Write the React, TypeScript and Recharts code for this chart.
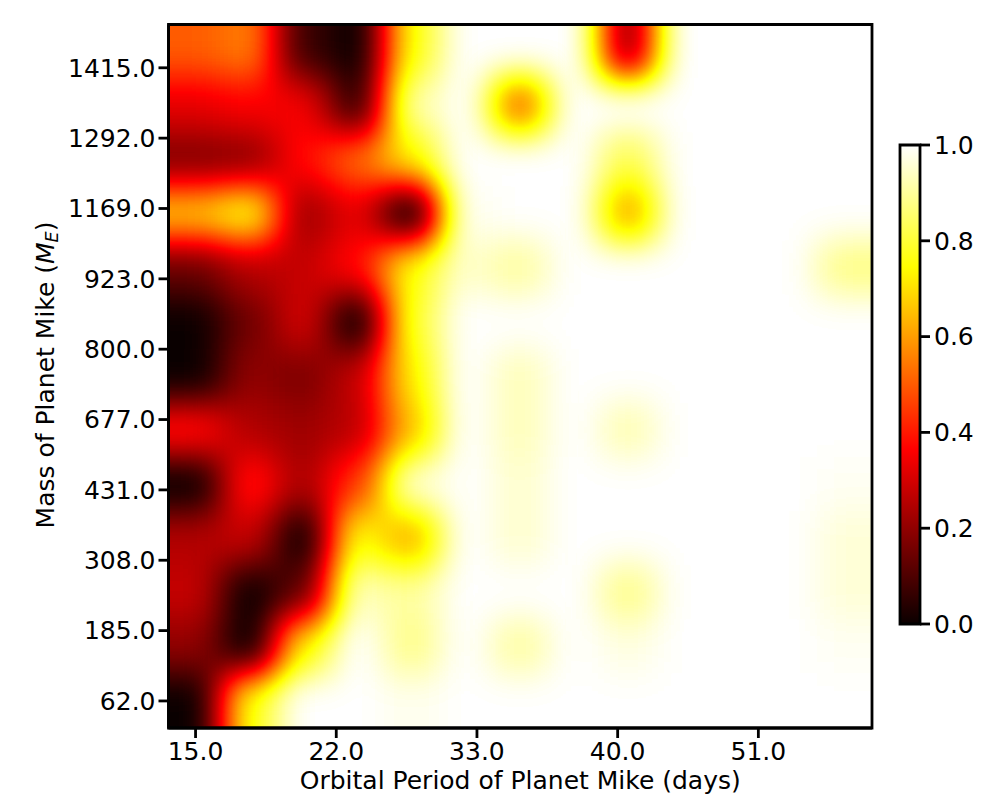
import React from "react";
import {
  Bar,
  BarChart,
  ReferenceArea,
  Scatter,
  ScatterChart,
  XAxis,
  YAxis,
} from "recharts";

// rows run from the top of the image (1415-ish) down to the bottom (62)
const row12 = [0.5, 0.55, 0.08, 0.0, 0.75, 1, 1, 1, 0.2, 1, 1, 1, 1];
const row11 = [0.33, 0.36, 0.35, 0.06, 0.9, 1, 0.5, 1, 1, 1, 1, 1, 1];
const row10 = [0.18, 0.2, 0.38, 0.52, 0.72, 1, 1, 1, 0.82, 1, 1, 1, 1];
const row9 = [0.65, 0.75, 0.22, 0.33, 0.0, 0.98, 1, 1, 0.6, 1, 1, 1, 1];
const row8 = [0.15, 0.26, 0.28, 0.38, 0.75, 0.95, 0.9, 1, 1, 1, 1, 1, 0.88];
const row7 = [0.0, 0.15, 0.3, 0.0, 0.78, 1, 1, 1, 1, 1, 1, 1, 1];
const row6 = [0.0, 0.2, 0.17, 0.28, 0.72, 1, 0.93, 1, 1, 1, 1, 1, 1];
const row5 = [0.38, 0.25, 0.22, 0.27, 0.65, 1, 0.93, 1, 0.92, 1, 1, 1, 1];
const row4 = [0.0, 0.4, 0.24, 0.45, 0.95, 1, 0.95, 1, 1, 1, 1, 1, 0.99];
const row3 = [0.25, 0.28, 0.0, 0.75, 0.62, 1, 0.95, 1, 1, 1, 1, 1, 0.96];
const row2 = [0.28, 0.0, 0.14, 0.93, 0.9, 1, 1, 1, 0.88, 1, 1, 1, 0.96];
const row1 = [0.2, 0.0, 0.72, 1, 0.88, 1, 0.9, 1, 0.97, 1, 1, 1, 0.99];
const row0 = [0.0, 0.75, 1, 1, 0.98, 1, 1, 1, 1, 1, 1, 1, 1];
const rows = [row12, row11, row10, row9, row8, row7, row6, row5, row4, row3, row2, row1, row0];

const periodLabels = ["15.0", "22.0", "33.0", "40.0", "51.0"];
const massLabels = ["62.0", "185.0", "308.0", "431.0", "677.0", "800.0", "923.0", "1169.0", "1292.0", "1415.0"];
const colorbarTicks = [0, 0.2, 0.4, 0.6, 0.8, 1];

// the labelled ticks fall every 2.6 columns and every 1.3 rows
const periodTicks = periodLabels.map((_, i) => i * 2.6);
const massTicks = massLabels.map((_, i) => i * 1.3);

const hotStops: [number, number[]][] = [
  [0, [11, 0, 0]],
  [0.365, [255, 0, 0]],
  [0.746, [255, 255, 0]],
  [1, [255, 255, 255]],
];

const PLOT = 703.5;
const LEFT = 168.5;
const TOP = 24.5;
const CELL = PLOT / 13;
const FONT = "DejaVu Sans";
const plotMargin = { top: TOP, right: 1000 - LEFT - PLOT, bottom: 800 - TOP - PLOT, left: LEFT };

const cells = rows.flatMap((vals, r) =>
  vals.map((value, col) => ({ col, row: 12 - r, value }))
);

function hotChannel(v: number, ch: number) {
  for (let i = 1; i < hotStops.length; i++) {
    const [p0, c0] = hotStops[i - 1];
    const [p1, c1] = hotStops[i];
    if (v <= p1) return (c0[ch] + ((v - p0) / (p1 - p0)) * (c1[ch] - c0[ch])) / 255;
  }
  return 1;
}

function hotTable(ch: number) {
  const out: string[] = [];
  for (let i = 0; i <= 255; i++) out.push(hotChannel(i / 255, ch).toFixed(4));
  return out.join(" ");
}

// cells are painted as gray levels, blurred, then pushed through the colormap
function GrayCell(props: any) {
  const { cx, cy, payload } = props;
  const g = Math.round(payload.value * 255);
  const left = payload.col === 0 ? 80 : 0.5;
  const right = payload.col === 12 ? 80 : 0.5;
  const top = payload.row === 12 ? 80 : 0.5;
  const bottom = payload.row === 0 ? 80 : 0.5;
  return (
    <rect
      x={cx - CELL / 2 - left}
      y={cy - CELL / 2 - top}
      width={CELL + left + right}
      height={CELL + top + bottom}
      fill={`rgb(${g},${g},${g})`}
    />
  );
}

function MassLabel() {
  return (
    <text
      transform="translate(54,375) rotate(-90)"
      textAnchor="middle"
      fontFamily={FONT}
      fontSize={25}
      fill="#000"
    >
      Mass of Planet Mike (
      <tspan fontStyle="italic">M</tspan>
      <tspan fontStyle="italic" fontSize={17.5} dy={4}>E</tspan>
      <tspan dy={-4}>)</tspan>
    </text>
  );
}

const axisLine = { stroke: "#000", strokeWidth: 2.8 };
const tickStyle = { fontFamily: FONT, fontSize: 25, fill: "#000" };
const layer: React.CSSProperties = { position: "absolute", left: 0, top: 0 };

export default function App() {
  return (
    <div style={{ ...layer, width: 1000, height: 800, background: "#fff" }}>
      <style>{`.heat .recharts-scatter { filter: url(#hotBlur); clip-path: url(#plotClip); }`}</style>
      <svg width={0} height={0} style={{ position: "absolute" }}>
        <defs>
          <filter
            id="hotBlur"
            filterUnits="userSpaceOnUse"
            x={60}
            y={-80}
            width={920}
            height={920}
            colorInterpolationFilters="sRGB"
          >
            <feGaussianBlur stdDeviation={18} />
            <feComponentTransfer>
              <feFuncR type="table" tableValues={hotTable(0)} />
              <feFuncG type="table" tableValues={hotTable(1)} />
              <feFuncB type="table" tableValues={hotTable(2)} />
            </feComponentTransfer>
          </filter>
          <clipPath id="plotClip" clipPathUnits="userSpaceOnUse">
            <rect x={LEFT} y={TOP} width={PLOT} height={PLOT} />
          </clipPath>
          <linearGradient id="hotBar" x1="0" y1="1" x2="0" y2="0">
            {hotStops.map(([p, c]) => (
              <stop key={p} offset={p} stopColor={`rgb(${c.join(",")})`} />
            ))}
          </linearGradient>
        </defs>
      </svg>

      {/* heatmap on its own layer so the frame and ticks sit on top of it */}
      <div className="heat" style={layer}>
        <ScatterChart width={1000} height={800} margin={plotMargin}>
          <XAxis type="number" dataKey="col" domain={[-0.5, 12.5]} hide />
          <YAxis type="number" dataKey="row" domain={[-0.5, 12.5]} hide />
          <Scatter data={cells} shape={GrayCell} isAnimationActive={false} />
        </ScatterChart>
      </div>

      <div style={layer}>
        <ScatterChart width={1000} height={800} margin={{ top: TOP, right: plotMargin.right, bottom: 0, left: 0 }}>
          <XAxis
            type="number"
            dataKey="col"
            domain={[-0.5, 12.5]}
            ticks={periodTicks}
            tickFormatter={(_, i) => periodLabels[i]}
            height={plotMargin.bottom}
            interval={0}
            tickSize={10}
            tickMargin={4}
            axisLine={axisLine}
            tickLine={axisLine}
            tick={tickStyle}
            label={{
              value: "Orbital Period of Planet Mike (days)",
              position: "insideBottom",
              offset: 11,
              style: { fontFamily: FONT, fontSize: 25, fill: "#000" },
            }}
          />
          <YAxis
            type="number"
            dataKey="row"
            domain={[-0.5, 12.5]}
            ticks={massTicks}
            tickFormatter={(_, i) => massLabels[i]}
            width={LEFT}
            interval={0}
            tickSize={10}
            tickMargin={3}
            axisLine={axisLine}
            tickLine={axisLine}
            tick={tickStyle}
            label={{ content: () => <MassLabel /> }}
          />
          <Scatter data={cells} shape={() => <g />} isAnimationActive={false} />
          <ReferenceArea
            x1={-0.5}
            x2={12.5}
            y1={-0.5}
            y2={12.5}
            fill="none"
            stroke="#000"
            strokeWidth={2.8}
            fillOpacity={0}
            strokeOpacity={1}
          />
        </ScatterChart>
      </div>

      <div style={layer}>
        <BarChart
          width={1000}
          height={800}
          data={[{ name: "scale", top: 1 }]}
          barCategoryGap={0}
          margin={{ top: 145, right: 0, bottom: 176, left: 900 }}
        >
          <XAxis dataKey="name" hide />
          <YAxis
            orientation="right"
            type="number"
            domain={[0, 1]}
            ticks={colorbarTicks}
            tickFormatter={(v) => Number(v).toFixed(1)}
            width={80}
            interval={0}
            tickSize={10}
            tickMargin={4}
            axisLine={false}
            tickLine={axisLine}
            tick={tickStyle}
          />
          <Bar dataKey="top" fill="url(#hotBar)" stroke="#000" strokeWidth={2.8} isAnimationActive={false} />
        </BarChart>
      </div>
    </div>
  );
}
